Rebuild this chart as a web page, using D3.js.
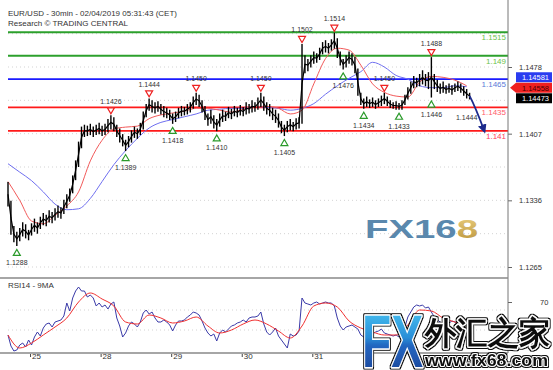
<!DOCTYPE html>
<html>
<head>
<meta charset="utf-8">
<script src="https://cdn.jsdelivr.net/npm/d3@7"></script>
<style>
  body { margin: 0; background: #fff; }
  svg text { font-family: "Liberation Sans", Arial, sans-serif; }
</style>
</head>
<body>
<div id="chart"></div>
<script>
var svgWidth = 553;
var svgHeight = 370;

// EUR/USD, one bar per hour (Jan 24 16:30 -> Feb 4 05:30 CET)
var barHigh = [
  1.1355,1.1335,1.1308,1.1302,1.1306,1.1312,1.1310,1.1304,1.1311,1.1316,
  1.1312,1.1318,1.1322,1.1320,1.1325,1.1323,1.1327,1.1330,1.1328,1.1336,
  1.1342,1.1348,1.1362,1.1378,1.1398,1.1414,1.1416,1.1415,1.1417,1.1414,
  1.1416,1.1418,1.1415,1.1417,1.1422,1.1426,1.1424,1.1416,1.1412,1.1406,
  1.1400,1.1404,1.1410,1.1414,1.1412,1.1418,1.1430,1.1438,1.1444,1.1442,
  1.1440,1.1441,1.1438,1.1436,1.1434,1.1432,1.1428,1.1430,1.1434,1.1436,
  1.1435,1.1438,1.1440,1.1446,1.1450,1.1448,1.1442,1.1436,1.1428,1.1432,
  1.1426,1.1422,1.1428,1.1432,1.1430,1.1435,1.1433,1.1436,1.1434,1.1437,
  1.1435,1.1440,1.1438,1.1442,1.1440,1.1445,1.1450,1.1446,1.1440,1.1438,
  1.1434,1.1432,1.1428,1.1420,1.1416,1.1420,1.1422,1.1419,1.1423,1.1424,
  1.1502,1.1490,1.1486,1.1490,1.1494,1.1492,1.1498,1.1504,1.1506,1.1503,
  1.1507,1.1514,1.1508,1.1494,1.1486,1.1490,1.1494,1.1492,1.1488,1.1476,
  1.1450,1.1444,1.1446,1.1443,1.1445,1.1442,1.1444,1.1447,1.1450,1.1446,
  1.1442,1.1440,1.1441,1.1439,1.1442,1.1448,1.1456,1.1462,1.1468,1.1466,
  1.1470,1.1474,1.1470,1.1472,1.1488,1.1470,1.1464,1.1460,1.1462,1.1458,
  1.1460,1.1458,1.1460,1.1462,1.1460,1.1457,1.1454,1.1450
];
var barLow = [
  1.1330,1.1300,1.1292,1.1288,1.1293,1.1298,1.1296,1.1294,1.1299,1.1303,
  1.1301,1.1306,1.1310,1.1309,1.1313,1.1312,1.1315,1.1318,1.1317,1.1322,
  1.1328,1.1335,1.1344,1.1358,1.1372,1.1392,1.1404,1.1405,1.1406,1.1404,
  1.1406,1.1407,1.1405,1.1406,1.1409,1.1412,1.1410,1.1404,1.1398,1.1394,
  1.1389,1.1393,1.1398,1.1403,1.1402,1.1406,1.1412,1.1425,1.1432,1.1430,
  1.1429,1.1431,1.1428,1.1425,1.1424,1.1422,1.1418,1.1420,1.1424,1.1426,
  1.1427,1.1428,1.1430,1.1434,1.1438,1.1436,1.1430,1.1422,1.1416,1.1418,
  1.1413,1.1410,1.1415,1.1420,1.1421,1.1424,1.1423,1.1426,1.1425,1.1427,
  1.1426,1.1428,1.1429,1.1430,1.1431,1.1433,1.1436,1.1432,1.1428,1.1426,
  1.1422,1.1419,1.1414,1.1408,1.1405,1.1409,1.1411,1.1410,1.1412,1.1413,
  1.1418,1.1472,1.1474,1.1478,1.1482,1.1483,1.1486,1.1492,1.1494,1.1493,
  1.1496,1.1498,1.1488,1.1480,1.1476,1.1478,1.1482,1.1480,1.1472,1.1448,
  1.1438,1.1434,1.1436,1.1435,1.1436,1.1434,1.1436,1.1437,1.1439,1.1437,
  1.1435,1.1434,1.1433,1.1433,1.1433,1.1438,1.1444,1.1450,1.1456,1.1457,
  1.1458,1.1460,1.1458,1.1455,1.1446,1.1455,1.1452,1.1450,1.1451,1.1450,
  1.1451,1.1449,1.1452,1.1453,1.1451,1.1448,1.1445,1.1444
];
var lastClose = 1.14473;

// moving averages, one value every 4 bars
var maStep = 4;
var redMA = [
  1.1356,1.1336,1.1314,1.1311,1.1320,1.1330,1.1345,1.1378,1.1400,1.1412,
  1.1414,1.1415,1.1423,1.1427,1.1429,1.1431,1.1434,1.1434,1.1432,1.1430,
  1.1433,1.1436,1.1436,1.1434,1.1428,1.1432,1.1460,1.1487,1.1498,1.1496,
  1.1480,1.1460,1.1451,1.1447,1.1446,1.1462,1.1468,1.1467,1.1464,1.1458
];
var blueMA = [
  1.1375,1.1366,1.1357,1.1345,1.1332,1.1326,1.1327,1.1338,1.1356,1.1374,
  1.1389,1.1402,1.1413,1.1419,1.1422,1.1425,1.1428,1.1432,1.1433,1.1434,
  1.1434,1.1436,1.1435,1.1434,1.1432,1.1434,1.1439,1.1449,1.1458,1.1466,
  1.1473,1.1483,1.1478,1.1469,1.1465,1.1458,1.1456,1.1456,1.1458,1.1457
];

// key levels
var levels = [1.1515, 1.149, 1.1465, 1.1435, 1.141];
var levelLabels = ["1.1515", "1.149", "1.1465", "1.1435", "1.141"];
var levelColors = ["#2ca02c", "#2ca02c", "#1a1aff", "#ff1a1a", "#ff1a1a"];
var levelTextColors = ["#6cc24a", "#6cc24a", "#5a7ad8", "#ff5a6a", "#ff3a5a"];

// swing highs / lows
var resistIdx = [35, 48, 64, 86, 100, 111, 128, 144];
var resistVal = [1.1426, 1.1444, 1.1450, 1.1450, 1.1502, 1.1514, 1.1450, 1.1488];
var supportIdx = [3, 40, 56, 71, 94, 114, 121, 133, 144];
var supportVal = [1.1288, 1.1389, 1.1418, 1.1410, 1.1405, 1.1476, 1.1434, 1.1433, 1.1446];
var targetIdx = 162;
var targetVal = 1.1410;

var priceTicks = [1.1265, 1.1336, 1.1407, 1.1478];
var dayIdx = [7.5, 31.5, 55.5, 79.5, 103.5];
var dayLabels = ["25", "28", "29", "30", "31"];

var tagValues = [1.14581, 1.14558, 1.14473];
var tagFills = ["#2a3cf0", "#f02020", "#000"];
var tagText = ["#fff", "#4a0000", "#fff"];

// RSI(14), hourly, and its 9MA every 4 bars
var rsi = [
  37,26,21,22,27,29,25,32,27,35, 40,36,44,48,49,45,50,51,52,56,
  69,61,74,81,85,81,81,75,77,74, 66,69,65,67,63,68,70,54,46,35,
  39,46,50,48,45,50,59,62,58,60, 54,50,50,52,50,47,41,47,51,51,
  52,55,57,60,59,57,51,44,39,36, 38,31,39,42,40,43,46,47,49,50,
  52,50,54,55,55,56,60,48,40,37, 40,44,36,32,28,24,38,36,37,41,
  74,69,68,67,69,70,68,69,70,69, 69,66,54,46,42,45,46,47,45,43,
  37,35,37,36,38,40,41,43,39,38, 37,36,37,35,38,45,55,60,65,67,
  66,67,64,65,60,55,52,50,48,50, 49,51,50,48,47,45,42,38
];
var rsiMA = [
  37,24,29,37,45,54,70,79,73,66, 50,48,57,54,49,51,55,46,39,42,
  48,52,48,41,34,46,66,69,65,51, 44,40,37,37,47,62,61,54,50,46
];
var rsiTicks = [70];

var svg = d3.select("#chart").append("svg")
  .attr("width", svgWidth)
  .attr("height", svgHeight)
  .style("display", "block");

var plotLeft = 8, plotRight = 508;
var mainBottom = 278, rsiTop = 279, rsiBottom = 353;

var x = d3.scaleLinear().domain([0, barHigh.length - 1]).range([8, 469.6]);
var y = d3.scaleLinear().domain([1.1265, 1.1478]).range([267, 67]);
var yr = d3.scaleLinear().domain([19, 93]).range([rsiBottom, rsiTop]);

var defs = svg.append("defs");
defs.append("clipPath").attr("id", "mainClip").append("rect")
  .attr("x", plotLeft - 2).attr("y", 0).attr("width", plotRight - plotLeft + 2).attr("height", mainBottom);
defs.append("clipPath").attr("id", "rsiClip").append("rect")
  .attr("x", plotLeft - 2).attr("y", rsiTop).attr("width", plotRight - plotLeft + 2).attr("height", rsiBottom - rsiTop);
defs.append("marker").attr("id", "arrowHead")
  .attr("viewBox", "0 0 10 10").attr("refX", 7).attr("refY", 5)
  .attr("markerWidth", 5).attr("markerHeight", 5).attr("orient", "auto")
  .append("path").attr("d", "M0,0 L10,5 L0,10 Z").attr("fill", "#1c2a8c");

// outer black outline for the logo, drawn by a filter instead of a second text copy
var outline = defs.append("filter").attr("id", "outline")
  .attr("x", "-10%").attr("y", "-10%").attr("width", "120%").attr("height", "120%");
outline.append("feMorphology").attr("in", "SourceAlpha").attr("operator", "dilate").attr("radius", 1.2).attr("result", "fat");
outline.append("feFlood").attr("flood-color", "#111").attr("result", "ink");
outline.append("feComposite").attr("in", "ink").attr("in2", "fat").attr("operator", "in").attr("result", "edge");
var om = outline.append("feMerge");
om.append("feMergeNode").attr("in", "edge");
om.append("feMergeNode").attr("in", "SourceGraphic");

// dotted grid
var gridVals = d3.range(1.1265, 1.1530, 0.00355);
svg.append("g").selectAll("line").data(gridVals).join("line")
  .attr("x1", plotLeft).attr("x2", plotRight)
  .attr("y1", d => y(d)).attr("y2", d => y(d))
  .attr("stroke", "#c8c8c8").attr("stroke-width", 0.8)
  .attr("stroke-dasharray", "1,3");

// header
svg.append("text").attr("x", 8).attr("y", 16)
  .attr("font-size", 8).attr("fill", "#333")
  .text("EUR/USD - 30min - 02/04/2019 05:31:43 (CET)");
svg.append("text").attr("x", 8).attr("y", 26)
  .attr("font-size", 8).attr("fill", "#333")
  .text("Research \u00a9 TRADING CENTRAL");

// FX168 watermark
var g168 = defs.append("linearGradient").attr("id", "goldGrad").attr("x1", 0).attr("y1", 0).attr("x2", 0).attr("y2", 1);
g168.append("stop").attr("offset", "0%").attr("stop-color", "#ecd080");
g168.append("stop").attr("offset", "100%").attr("stop-color", "#b8923a");
var wm = svg.append("text").attr("x", 365).attr("y", 238)
  .attr("font-size", 26).attr("font-weight", "bold")
  .attr("font-family", "Lato")
  .attr("textLength", 113).attr("lengthAdjust", "spacingAndGlyphs")
  .attr("fill", "#5a88ad");
wm.append("tspan").text("FX16");
wm.append("tspan").attr("fill", "url(#goldGrad)").text("8");

// levels
var lv = svg.append("g");
lv.selectAll("line").data(levels).join("line")
  .attr("x1", plotLeft).attr("x2", plotRight)
  .attr("y1", d => y(d)).attr("y2", d => y(d))
  .attr("stroke", (d, i) => levelColors[i]).attr("stroke-width", 1.8);
lv.selectAll("text").data(levels).join("text")
  .attr("x", plotRight - 2).attr("y", d => y(d) + 8)
  .attr("text-anchor", "end").attr("font-size", 8)
  .attr("fill", (d, i) => levelTextColors[i])
  .text((d, i) => levelLabels[i]);

// moving averages
var main = svg.append("g").attr("clip-path", "url(#mainClip)");
var maLine = d3.line().x((d, i) => x(i * maStep)).y(d => y(d)).curve(d3.curveMonotoneX);
main.append("path").datum(blueMA).attr("d", maLine)
  .attr("fill", "none").attr("stroke", "#6f6ff0").attr("stroke-width", 1);
main.append("path").datum(redMA).attr("d", maLine)
  .attr("fill", "none").attr("stroke", "#f25a5a").attr("stroke-width", 1);

// price bars: high-low range plus a thin path through the bar midpoints
main.append("path").datum(barHigh)
  .attr("d", d3.line().x((d, i) => x(i)).y((d, i) => y((d + barLow[i]) / 2)))
  .attr("fill", "none").attr("stroke", "#000").attr("stroke-width", 1.2);
main.append("g").selectAll("line").data(barHigh).join("line")
  .attr("x1", (d, i) => x(i)).attr("x2", (d, i) => x(i))
  .attr("y1", d => y(d) - 0.5).attr("y2", (d, i) => y(barLow[i]) + 0.5)
  .attr("stroke", "#000").attr("stroke-width", 1.4);

// projection arrow
main.append("path")
  .attr("d", "M" + x(barHigh.length - 1) + "," + y(lastClose) +
    " Q" + x(targetIdx - 3) + "," + y(lastClose - 0.0012) +
    " " + x(targetIdx) + "," + y(targetVal))
  .attr("fill", "none").attr("stroke", "#1c2a8c").attr("stroke-width", 1.8)
  .attr("marker-end", "url(#arrowHead)");

// swing markers
var ann = svg.append("g").attr("font-size", 7).attr("fill", "#333");
ann.selectAll("path.res").data(resistIdx).join("path").attr("class", "res")
  .attr("transform", (d, i) => "translate(" + x(d) + "," + (y(resistVal[i]) - 5) + ")")
  .attr("d", "M-3.5,-3 L3.5,-3 L0,3 Z")
  .attr("fill", "#fff").attr("stroke", "#ee2020").attr("stroke-width", 1.2);
ann.selectAll("text.res").data(resistIdx).join("text").attr("class", "res")
  .attr("x", d => x(d)).attr("y", (d, i) => y(resistVal[i]) - 12)
  .attr("text-anchor", "middle").text((d, i) => resistVal[i].toFixed(4));
ann.selectAll("path.sup").data(supportIdx).join("path").attr("class", "sup")
  .attr("transform", (d, i) => "translate(" + x(d) + "," + (y(supportVal[i]) + 7) + ")")
  .attr("d", "M-3.5,3 L3.5,3 L0,-3 Z")
  .attr("fill", "#fff").attr("stroke", "#2a9a2a").attr("stroke-width", 1.2);
ann.selectAll("text.sup").data(supportIdx).join("text").attr("class", "sup")
  .attr("x", d => x(d)).attr("y", (d, i) => y(supportVal[i]) + 19.5)
  .attr("text-anchor", "middle").text((d, i) => supportVal[i].toFixed(4));
ann.append("text").attr("x", x(156)).attr("y", y(1.1444) + 21)
  .attr("text-anchor", "middle").text("1.1444");

// price axis
var axisG = svg.append("g").attr("transform", "translate(" + plotRight + ",0)")
  .call(d3.axisRight(y).tickValues(priceTicks).tickSize(4).tickPadding(7).tickFormat(d3.format(".4f")));
axisG.select(".domain").remove();
axisG.selectAll("text").attr("font-size", 7.5).attr("fill", "#333").attr("font-family", "Liberation Sans");
axisG.selectAll("line").attr("stroke", "#666");

// value tags
var tagY = tagValues.map(v => y(v));
tagY[0] = Math.min(tagY[0], tagY[1] - 10.5);
tagY[2] = Math.max(tagY[2], tagY[1] + 10.5);
var tags = svg.append("g");
tags.selectAll("path").data(tagValues).join("path")
  .attr("d", (d, i) => {
    var ty = tagY[i];
    if (i === 1) return "M510," + ty + " L516," + (ty - 5) + " L552," + (ty - 5) + " L552," + (ty + 5) + " L516," + (ty + 5) + " Z";
    return "M516," + (ty - 5) + " L552," + (ty - 5) + " L552," + (ty + 5) + " L516," + (ty + 5) + " Z";
  })
  .attr("fill", (d, i) => tagFills[i]);
tags.selectAll("text").data(tagValues).join("text")
  .attr("x", 549).attr("y", (d, i) => tagY[i] + 3)
  .attr("text-anchor", "end").attr("font-size", 7.5)
  .attr("fill", (d, i) => tagText[i])
  .text(d => d.toFixed(5));

// panel frames
svg.append("line").attr("x1", plotRight).attr("x2", plotRight).attr("y1", 0).attr("y2", rsiBottom)
  .attr("stroke", "#777").attr("stroke-width", 1);
svg.append("line").attr("x1", 0).attr("x2", plotRight).attr("y1", mainBottom).attr("y2", mainBottom)
  .attr("stroke", "#888").attr("stroke-width", 1.5);
svg.append("line").attr("x1", 0).attr("x2", plotRight).attr("y1", rsiBottom).attr("y2", rsiBottom)
  .attr("stroke", "#888").attr("stroke-width", 1.5);

// RSI panel
svg.append("g").selectAll("line").data([62, 42]).join("line")
  .attr("x1", plotLeft).attr("x2", plotRight)
  .attr("y1", d => yr(d)).attr("y2", d => yr(d))
  .attr("stroke", "#c8c8c8").attr("stroke-width", 0.8).attr("stroke-dasharray", "1,3");
svg.append("text").attr("x", 8).attr("y", 288).attr("font-size", 8).attr("fill", "#333").text("RSI14 - 9MA");
var rsiG = svg.append("g").attr("clip-path", "url(#rsiClip)");
rsiG.append("path").datum(rsi)
  .attr("d", d3.line().x((d, i) => x(i)).y(d => yr(d)))
  .attr("fill", "none").attr("stroke", "#3a3aa8").attr("stroke-width", 1);
rsiG.append("path").datum(rsiMA)
  .attr("d", d3.line().x((d, i) => x(i * maStep)).y(d => yr(d)).curve(d3.curveMonotoneX))
  .attr("fill", "none").attr("stroke", "#f03030").attr("stroke-width", 1);
var rAxis = svg.append("g").attr("transform", "translate(" + plotRight + ",0)")
  .call(d3.axisRight(yr).tickValues(rsiTicks).tickSize(4).tickPadding(28));
rAxis.select(".domain").remove();
rAxis.selectAll("text").attr("font-size", 7.5).attr("fill", "#333").attr("font-family", "Liberation Sans");
rAxis.selectAll("line").attr("stroke", "#666");

// day axis
var dAxis = svg.append("g").attr("transform", "translate(0," + rsiBottom + ")")
  .call(d3.axisBottom(x).tickValues(dayIdx).tickSize(4).tickFormat((d, i) => dayLabels[i]));
dAxis.select(".domain").remove();
dAxis.selectAll("line").attr("stroke", "#444").attr("y1", 1);
dAxis.selectAll("text").attr("text-anchor", "start").attr("dx", 1.5).attr("dy", "0.2em")
  .attr("y", 4).attr("font-size", 8).attr("fill", "#333").attr("font-family", "Liberation Sans");

// FX外汇之家 logo
var fxGrad = defs.append("linearGradient").attr("id", "fxGrad").attr("x1", 0).attr("y1", 0).attr("x2", 0).attr("y2", 1);
fxGrad.append("stop").attr("offset", "0%").attr("stop-color", "#4fd0f8");
fxGrad.append("stop").attr("offset", "45%").attr("stop-color", "#2a8fd8");
fxGrad.append("stop").attr("offset", "55%").attr("stop-color", "#2266c0");
fxGrad.append("stop").attr("offset", "100%").attr("stop-color", "#1c3a8c");
var logo = svg.append("g").attr("filter", "url(#outline)");
logo.append("text").attr("x", 362).attr("y", 367)
  .attr("font-size", 74).attr("font-weight", "bold")
  .attr("textLength", 61).attr("lengthAdjust", "spacingAndGlyphs")
  .attr("fill", "url(#fxGrad)").attr("stroke", "#fff").attr("stroke-width", 3)
  .attr("stroke-linejoin", "round").style("paint-order", "stroke")
  .text("FX");
logo.append("text").attr("x", 425).attr("y", 344)
  .attr("font-size", 32).attr("font-weight", "bold")
  .attr("font-family", "Noto Sans CJK SC")
  .attr("textLength", 125).attr("lengthAdjust", "spacingAndGlyphs")
  .attr("fill", "#111").attr("stroke", "#fff").attr("stroke-width", 3)
  .attr("stroke-linejoin", "round").style("paint-order", "stroke")
  .text("外汇之家");
logo.append("text").attr("x", 425).attr("y", 366)
  .attr("font-size", 17).attr("font-weight", "bold")
  .attr("font-family", "Liberation Serif")
  .attr("textLength", 123).attr("lengthAdjust", "spacingAndGlyphs")
  .attr("fill", "#111").attr("stroke", "#fff").attr("stroke-width", 2)
  .attr("stroke-linejoin", "round").style("paint-order", "stroke")
  .text("www.fx68.com");
</script>
</body>
</html>
